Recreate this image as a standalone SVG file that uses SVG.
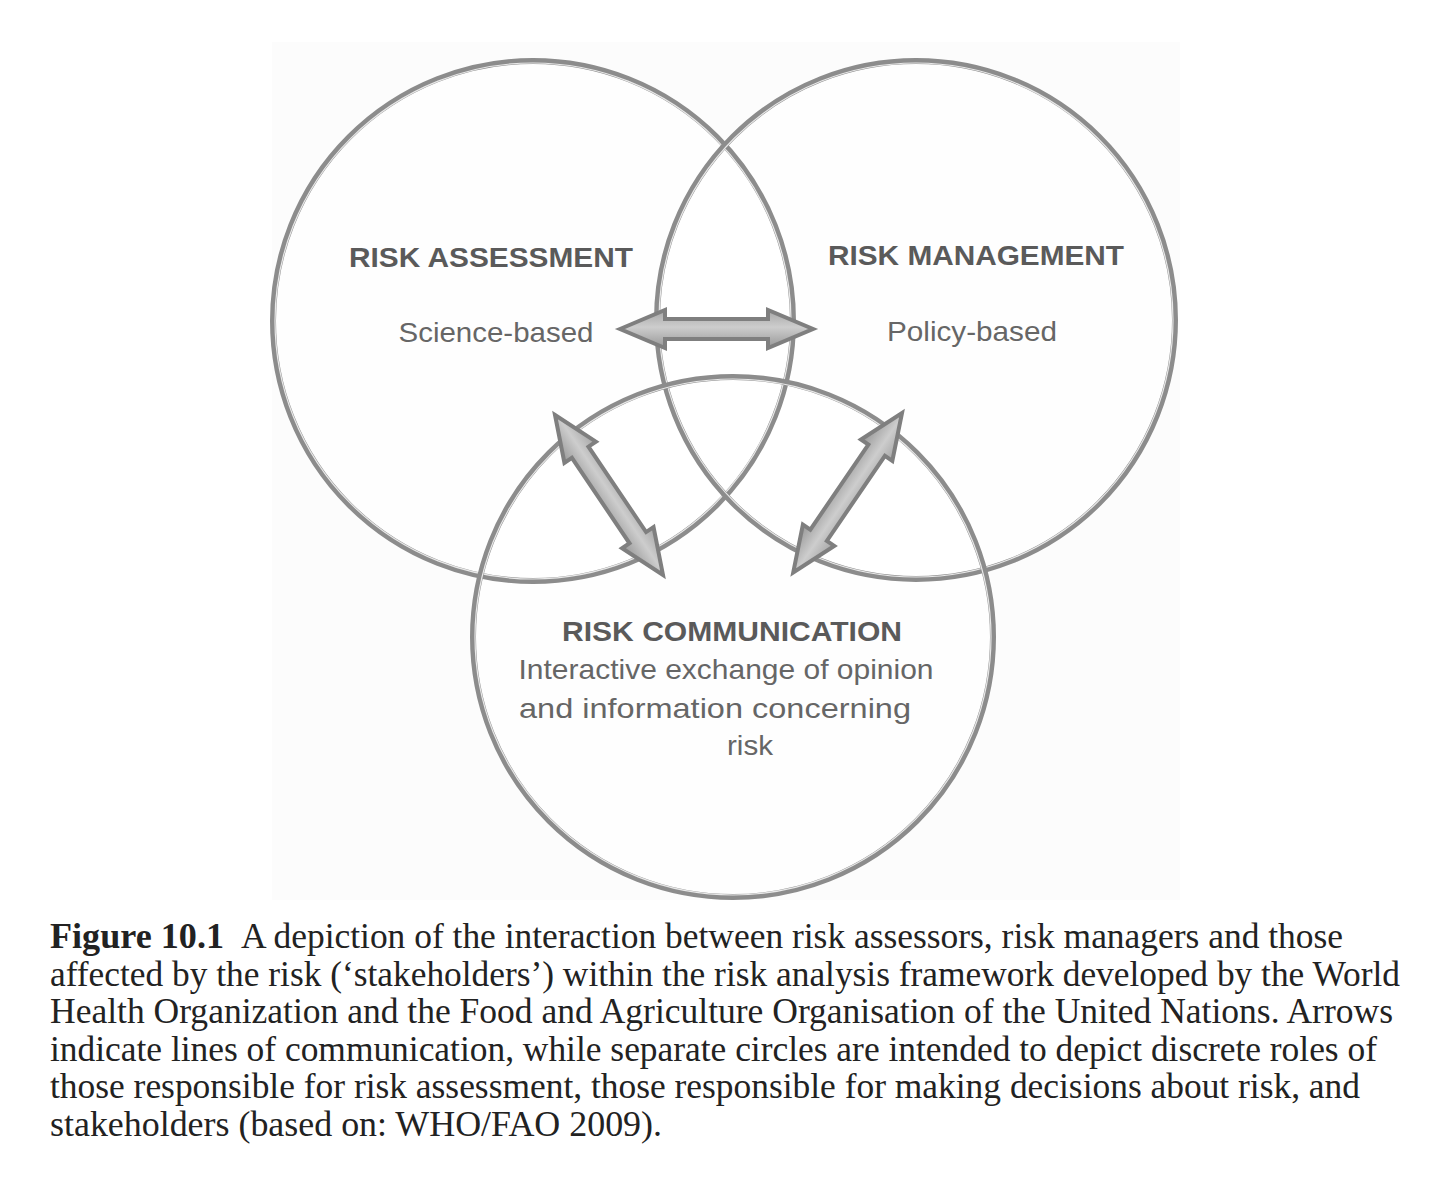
<svg xmlns="http://www.w3.org/2000/svg" width="1429" height="1181" viewBox="0 0 1429 1181">
<style>
.ring{fill:none;stroke:#8c8c8c;stroke-width:6}
.ringIn{fill:none;stroke:#ffffff;stroke-width:1.2;opacity:0.8}
.head{font-family:"Liberation Sans",Arial,sans-serif;font-weight:bold;font-size:28px;fill:#5a5a5a;text-anchor:middle}
.sub{font-family:"Liberation Sans",Arial,sans-serif;font-size:28px;fill:#666666;text-anchor:middle}
.cap{font-family:"Liberation Serif","Times New Roman",serif;font-size:35px;fill:#222222}
.arrow{fill:url(#ag);stroke:#7f7f7f;stroke-width:4;stroke-linejoin:miter}
</style>
<defs>
<linearGradient id="ag" x1="0" y1="-18" x2="0" y2="18" gradientUnits="userSpaceOnUse">
<stop offset="0" stop-color="#a8a8a8"/>
<stop offset="0.45" stop-color="#cdcdcd"/>
<stop offset="1" stop-color="#9a9a9a"/>
</linearGradient>
<path id="dblarrow" d="M0,0 L45,-19 L45,-10 L148,-10 L148,-19 L193,0 L148,19 L148,10 L45,10 L45,19 Z"/>
</defs>
<rect width="1429" height="1181" fill="#ffffff"/>
<rect x="272" y="42" width="908" height="858" fill="#fcfcfc"/>
<g id="node-assessment">
<circle cx="533" cy="321" r="260" fill="#ffffff" fill-opacity="0.6"/>
</g>
<g id="node-management">
<circle cx="916" cy="320" r="259" fill="#ffffff" fill-opacity="0.6"/>
</g>
<g id="node-communication">
<circle cx="733" cy="637" r="260" fill="#ffffff" fill-opacity="0.6"/>
</g>
<g id="rings">
<circle class="ring" cx="533" cy="321" r="260"/>
<circle class="ringIn" cx="533" cy="321" r="258"/>
<circle class="ring" cx="916" cy="320" r="259"/>
<circle class="ringIn" cx="916" cy="320" r="257"/>
<circle class="ring" cx="733" cy="637" r="260"/>
<circle class="ringIn" cx="733" cy="637" r="258"/>
</g>
<g id="labels">
<text class="head" x="491" y="267" textLength="284" lengthAdjust="spacingAndGlyphs">RISK ASSESSMENT</text>
<text class="sub" x="496" y="342" textLength="195" lengthAdjust="spacingAndGlyphs">Science-based</text>
<text class="head" x="976" y="265" textLength="296" lengthAdjust="spacingAndGlyphs">RISK MANAGEMENT</text>
<text class="sub" x="972" y="341" textLength="170" lengthAdjust="spacingAndGlyphs">Policy-based</text>
<text class="head" x="732" y="641" textLength="340" lengthAdjust="spacingAndGlyphs">RISK COMMUNICATION</text>
<text class="sub" x="726" y="679" textLength="415" lengthAdjust="spacingAndGlyphs">Interactive exchange of opinion</text>
<text class="sub" x="715" y="718" textLength="392" lengthAdjust="spacingAndGlyphs">and information concerning</text>
<text class="sub" x="750" y="755" textLength="46" lengthAdjust="spacingAndGlyphs">risk</text>
</g>
<g id="connectors">
<use href="#dblarrow" class="arrow" transform="translate(620,329)"/>
<use href="#dblarrow" class="arrow" transform="translate(555,415) rotate(55.98)"/>
<use href="#dblarrow" class="arrow" transform="translate(902,413) rotate(124.3)"/>
</g>
<g id="caption">
<text class="cap" x="50" y="948" font-weight="bold" textLength="174" lengthAdjust="spacingAndGlyphs">Figure 10.1</text>
<text class="cap" x="241" y="948" textLength="1102" lengthAdjust="spacingAndGlyphs">A depiction of the interaction between risk assessors, risk managers and those</text>
<text class="cap" x="50" y="986" textLength="1350" lengthAdjust="spacingAndGlyphs">affected by the risk (‘stakeholders’) within the risk analysis framework developed by the World</text>
<text class="cap" x="50" y="1023" textLength="1343" lengthAdjust="spacingAndGlyphs">Health Organization and the Food and Agriculture Organisation of the United Nations. Arrows</text>
<text class="cap" x="50" y="1061" textLength="1327" lengthAdjust="spacingAndGlyphs">indicate lines of communication, while separate circles are intended to depict discrete roles of</text>
<text class="cap" x="50" y="1098" textLength="1310" lengthAdjust="spacingAndGlyphs">those responsible for risk assessment, those responsible for making decisions about risk, and</text>
<text class="cap" x="50" y="1136" textLength="612" lengthAdjust="spacingAndGlyphs">stakeholders (based on: WHO/FAO 2009).</text>
</g>
</svg>
